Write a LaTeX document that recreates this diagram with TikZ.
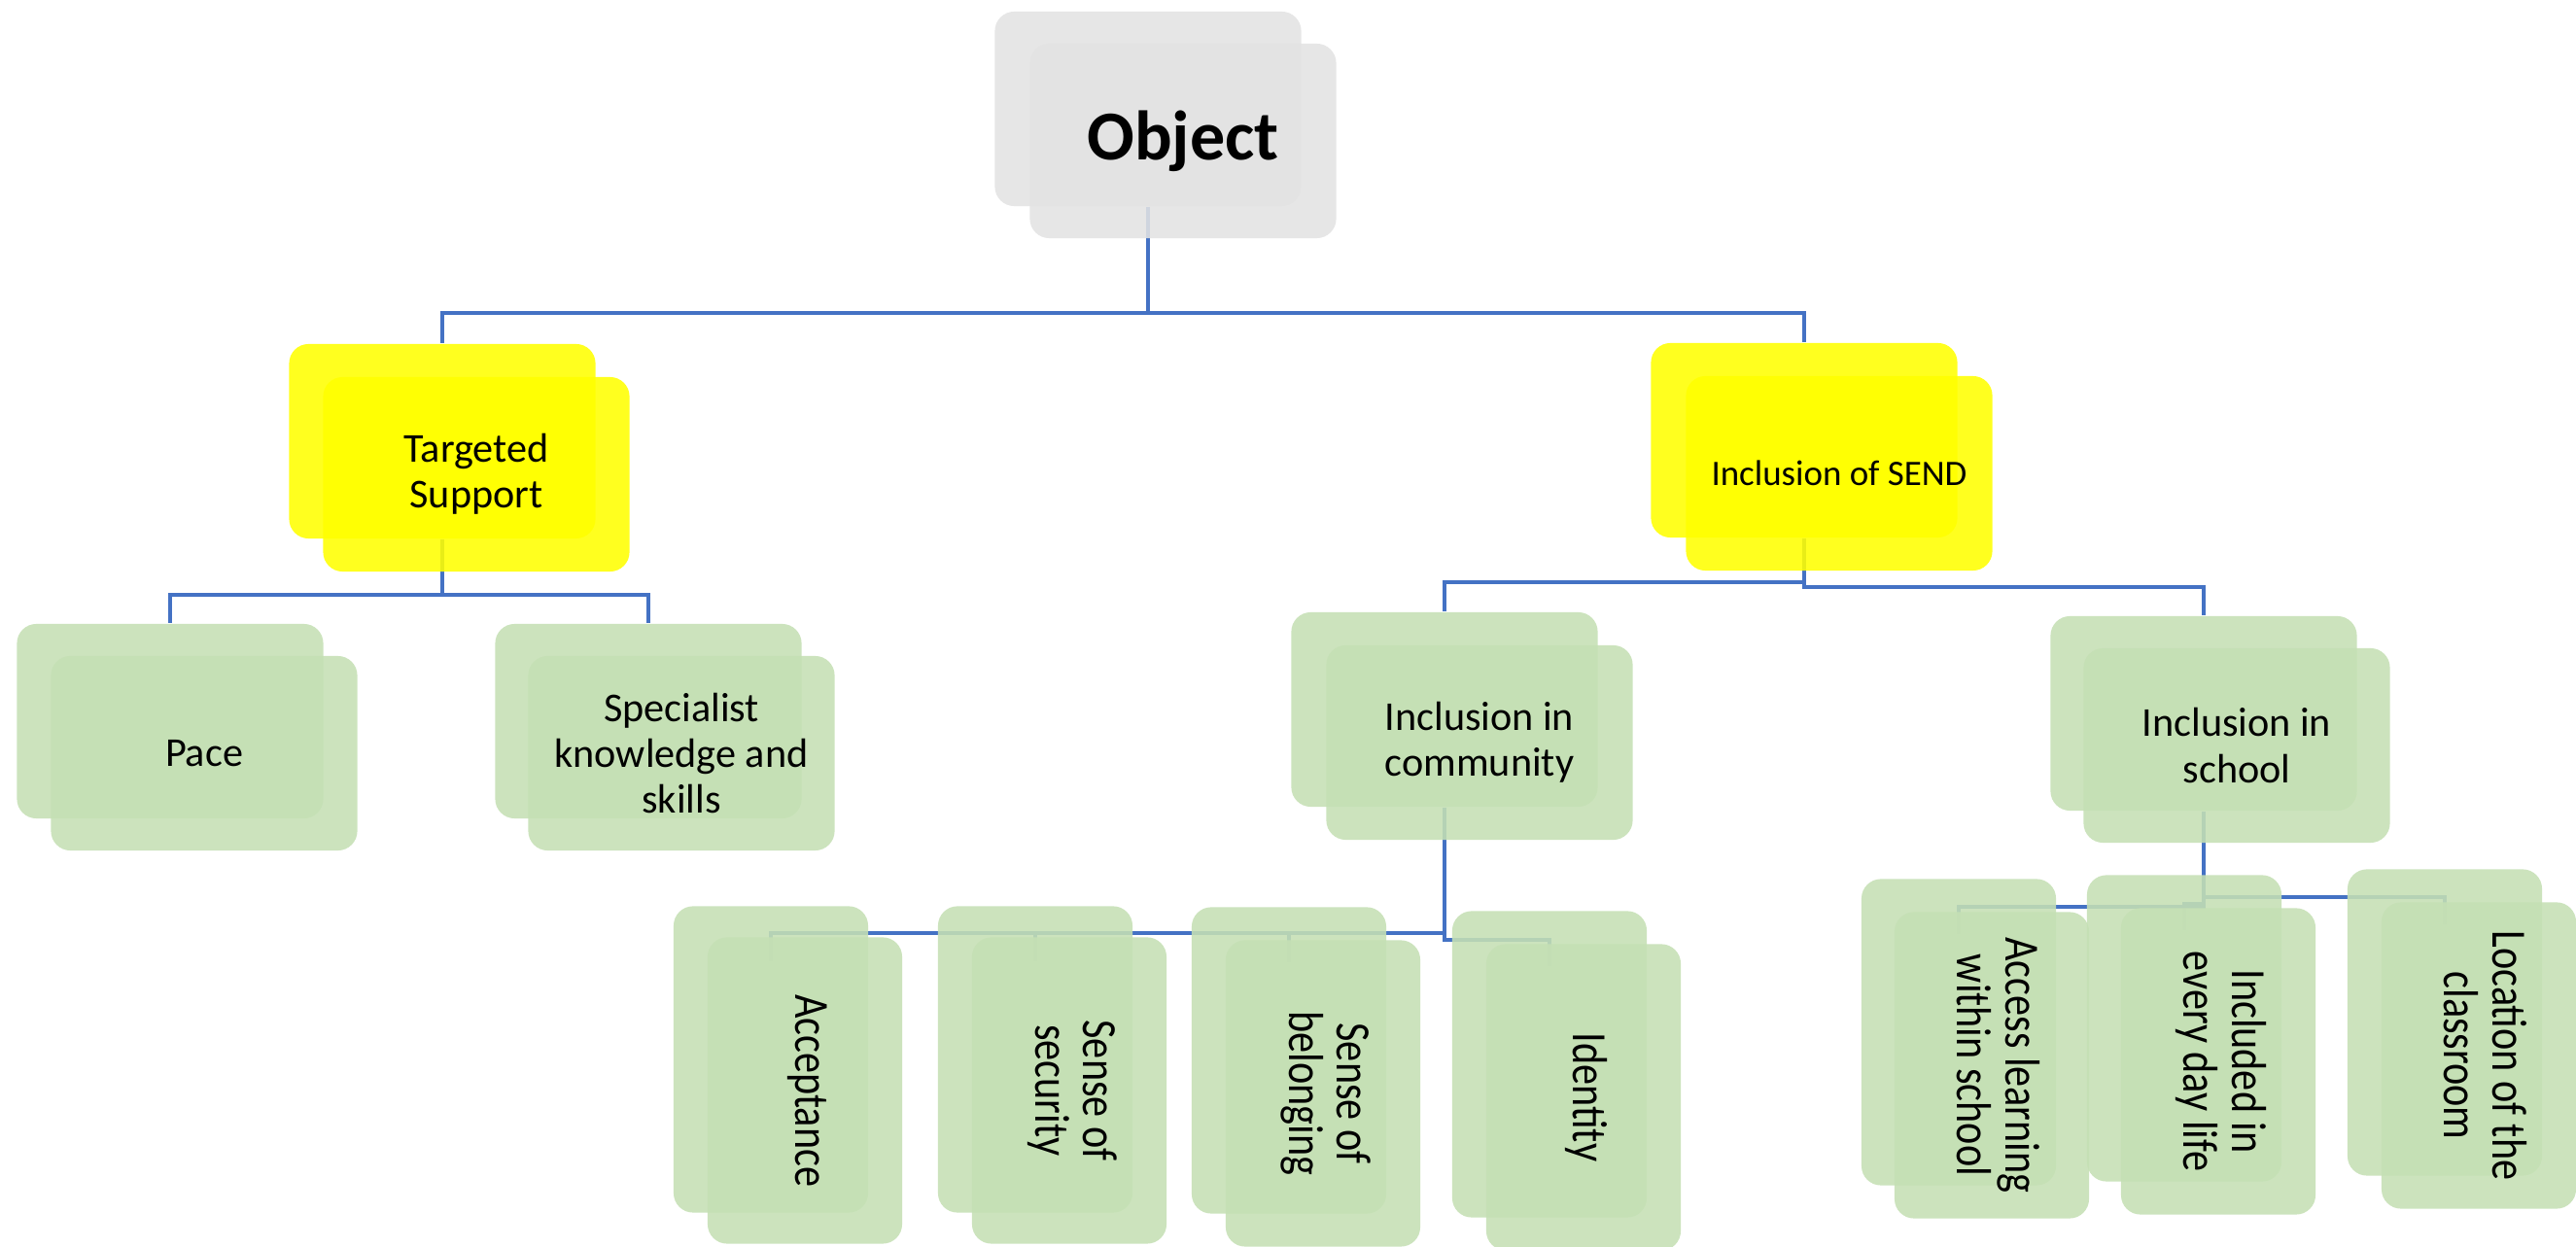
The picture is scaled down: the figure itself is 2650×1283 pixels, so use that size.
\documentclass[tikz,border=0pt]{standalone}
\usepackage{fontspec}
\setmainfont{Carlito}
\usepackage{graphicx}
\definecolor{boxgrey}{HTML}{E3E3E3}
\definecolor{hiyellow}{HTML}{FFFF00}
\definecolor{leafgreen}{HTML}{C5E0B4}
\definecolor{linkblue}{HTML}{4472C4}
\pgfdeclarelayer{canvas}
\pgfdeclarelayer{bg}
\pgfsetlayers{canvas,bg,main}
% vertical label: lines stacked, glyphs slightly tall
\newcommand\vlabel[1]{\scalebox{1}[1.2]{\begin{tabular}{@{}c@{}}#1\end{tabular}}}
\tikzset{
  card/.style={rounded corners=2mm, minimum width=3.15cm, minimum height=2cm,
    inner sep=0pt, align=center, fill opacity=0.88, text opacity=1,
    font=\fontsize{12}{13.4}\selectfont},
  tall/.style={minimum width=2cm, minimum height=3.15cm},
  turned/.style={rotate=-90, font=\fontsize{12}{11.2}\selectfont},
  greycard/.style={card, fill=boxgrey},
  yellowcard/.style={card, fill=hiyellow},
  greencard/.style={card, fill=leafgreen},
  link/.style={draw=linkblue, line width=1pt},
}
\begin{document}
\begin{tikzpicture}[x=0.01cm,y=-0.01cm]
\useasboundingbox (0,0) rectangle (2650,1283);
\begin{pgfonlayer}{canvas}
  \fill[white] (0,0) rectangle (2650,1283);
\end{pgfonlayer}

% root
\node[greycard] (objB) at (1181,112) {};
\node[greycard, font=\bfseries\fontsize{20.5}{24}\selectfont] (obj) at (1217,145) {Object};

% second level
\node[yellowcard] (tsB) at (455,454) {};
\node[yellowcard] (ts) at (490,488) {Targeted\\Support};
\node[yellowcard] (sendB) at (1856,453) {};
\node[yellowcard, font=\fontsize{10.5}{12}\selectfont] (send) at (1892,487) {Inclusion of SEND};

% third level
\node[greencard] (paceB) at (175,742) {};
\node[greencard] (pace) at (210,775) {Pace};
\node[greencard] (specB) at (667,742) {};
\node[greencard] (spec) at (701,775) {Specialist\\knowledge and\\skills};
\node[greencard] (comB) at (1486,730) {};
\node[greencard] (com) at (1522,764) {Inclusion in\\community};
\node[greencard] (schB) at (2267,734) {};
\node[greencard] (sch) at (2301,767) {Inclusion in\\school};

% community branch
\node[greencard, tall] (accB) at (793,1090) {};
\node[greencard, turned] (acc) at (828,1122) {\vlabel{Acceptance}};
\node[greencard, tall] (secB) at (1065,1090) {};
\node[greencard, turned] (sec) at (1100,1122) {\vlabel{Sense of\\security}};
\node[greencard, tall] (belB) at (1326,1091) {};
\node[greencard, turned] (bel) at (1361,1125) {\vlabel{Sense of\\belonging}};
\node[greencard, tall] (idB) at (1594,1095) {};
\node[greencard, turned] (id) at (1629,1129) {\vlabel{Identity}};

% school branch
\node[greencard, tall] (alsB) at (2015,1062) {};
\node[greencard, turned] (als) at (2049,1096) {\vlabel{Access learning\\within school}};
\node[greencard, tall] (incB) at (2247,1058) {};
\node[greencard, turned] (inc) at (2282,1092) {\vlabel{Included in\\every day life}};
\node[greencard, tall] (locB) at (2515,1052) {};
\node[greencard, turned] (loc) at (2550,1086) {\vlabel{Location of the\\classroom}};

% bus levels
\coordinate (topbar) at (0,322);
\coordinate (tsbar) at (0,612);
\coordinate (sendL) at (0,599);
\coordinate (sendR) at (0,604);
\coordinate (combar) at (0,960);
\coordinate (idbar) at (0,967);
\coordinate (schR) at (0,923);
\coordinate (schM) at (0,930);
\coordinate (schL) at (0,933);

\begin{pgfonlayer}{bg}
  \draw[link] (objB.south) -- (objB.south |- topbar) -| (tsB.north);
  \draw[link] (objB.south |- topbar) -| (sendB.north);

  \draw[link] (tsB.south) -- (tsB.south |- tsbar) -| (paceB.north);
  \draw[link] (tsB.south |- tsbar) -| (specB.north);

  \draw[link] (sendB.south) -- (sendB.south |- sendR) -| (schB.north);
  \draw[link] (sendB.south |- sendL) -| (comB.north);

  \draw[link] (comB.south) -- (comB.south |- combar) -| ([yshift=-5.7mm]accB.north);
  \draw[link] (comB.south |- combar) -| ([yshift=-5.7mm]secB.north);
  \draw[link] (comB.south |- combar) -| ([yshift=-5.7mm]belB.north);
  \draw[link] (comB.south |- combar) -- (comB.south |- idbar) -| ([yshift=-5.7mm]idB.north);

  \draw[link] (schB.south) -- (schB.south |- schR) -| ([yshift=-5.7mm]locB.north);
  \draw[link] (schB.south |- schR) -- (schB.south |- schM) -| ([yshift=-5.7mm]incB.north);
  \draw[link] (schB.south |- schM) -- (schB.south |- schL) -| ([yshift=-5.7mm]alsB.north);
\end{pgfonlayer}
\end{tikzpicture}
\end{document}
